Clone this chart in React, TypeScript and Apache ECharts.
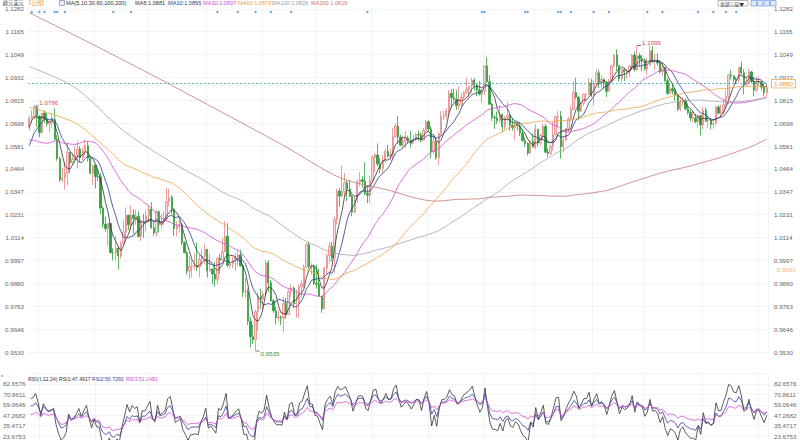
import React, { useEffect, useRef } from "react";
import * as echarts from "echarts";

// Closes before the visible window (warm-up for MA5/MA10/MA30 and RSI)
const priorCloses = [
  1.0826, 1.081, 1.078, 1.0787, 1.0854, 1.0836, 1.0796, 1.0712, 1.064, 1.0557,
  1.0497, 1.0545, 1.0509, 1.0525, 1.0619, 1.054, 1.0549, 1.0565, 1.0531, 1.0511,
  1.038, 1.041, 1.0435, 1.0553, 1.0465, 1.0585, 1.0563, 1.069, 1.0735, 1.0676,
];

// Daily candles [open, close, low, high]
const candles: number[][] = [
  // 2022-05
  [1.0676, 1.0725, 1.066, 1.0737], [1.0725, 1.0733, 1.07, 1.0765], [1.0733, 1.078, 1.072, 1.0786], [1.078, 1.0733, 1.068, 1.078],
  // 2022-06
  [1.0733, 1.065, 1.0627, 1.0739], [1.065, 1.075, 1.0641, 1.075], [1.075, 1.0719, 1.07, 1.0764], [1.0719, 1.0695, 1.0681, 1.0749],
  [1.0695, 1.0705, 1.0653, 1.0711], [1.0705, 1.0717, 1.0671, 1.0749], [1.0717, 1.0616, 1.0611, 1.0774], [1.0616, 1.0518, 1.0506, 1.0637],
  [1.0518, 1.0409, 1.0398, 1.0526], [1.0409, 1.0419, 1.0398, 1.047], [1.0419, 1.0444, 1.0359, 1.05], [1.0444, 1.0549, 1.038, 1.0601],
  [1.0549, 1.0496, 1.0445, 1.055], [1.0496, 1.0513, 1.0486, 1.0547], [1.0513, 1.0535, 1.0508, 1.0582], [1.0535, 1.0566, 1.0469, 1.0606],
  [1.0566, 1.0522, 1.0499, 1.058], [1.0522, 1.0555, 1.051, 1.0573], [1.0555, 1.0583, 1.0535, 1.0615], [1.0583, 1.0519, 1.0502, 1.0606],
  [1.0519, 1.0442, 1.0437, 1.0527], [1.0442, 1.0483, 1.0382, 1.0487],
  // 2022-07
  [1.0483, 1.0425, 1.0366, 1.0486], [1.0425, 1.0424, 1.0405, 1.0463], [1.0424, 1.0265, 1.0235, 1.0444], [1.0265, 1.0182, 1.0162, 1.0275],
  [1.0182, 1.016, 1.0144, 1.022], [1.016, 1.0186, 1.0072, 1.0188], [1.0186, 1.0037, 1.0033, 1.0186], [1.0037, 1.0036, 0.9998, 1.006],
  [1.0036, 1.0061, 0.9998, 1.0123], [1.0061, 1.002, 0.9952, 1.0071], [1.002, 1.0082, 1.0006, 1.0096], [1.0082, 1.0143, 1.008, 1.0201],
  [1.0143, 1.0228, 1.0117, 1.0269], [1.0228, 1.0179, 1.0153, 1.0232], [1.0179, 1.0229, 1.0153, 1.0278], [1.0229, 1.0212, 1.0131, 1.0258],
  [1.0212, 1.0223, 1.018, 1.0258], [1.0223, 1.012, 1.0115, 1.0248], [1.012, 1.0198, 1.0097, 1.021], [1.0198, 1.0196, 1.0114, 1.0234],
  [1.0196, 1.0225, 1.0144, 1.0254],
  // 2022-08
  [1.0225, 1.026, 1.019, 1.0275], [1.026, 1.0164, 1.016, 1.0294], [1.0164, 1.0138, 1.0123, 1.0195], [1.0138, 1.0246, 1.0122, 1.0254],
  [1.0246, 1.0181, 1.0141, 1.0252], [1.0181, 1.0196, 1.0161, 1.0234], [1.0196, 1.0211, 1.0178, 1.0248], [1.0211, 1.0298, 1.0197, 1.0368],
  [1.0298, 1.032, 1.0273, 1.0364], [1.032, 1.0259, 1.0234, 1.033], [1.0259, 1.016, 1.0123, 1.0265], [1.016, 1.017, 1.0121, 1.02],
  [1.017, 1.018, 1.014, 1.0202], [1.018, 1.0088, 1.0075, 1.019], [1.0088, 1.0037, 1.0034, 1.0096], [1.0037, 0.9943, 0.9926, 1.0045],
  [0.9943, 0.9968, 0.9901, 1.0018], [0.9968, 0.997, 0.991, 0.9999], [0.997, 0.9972, 0.995, 1.0034], [0.9972, 0.9964, 0.9945, 1.009],
  [0.9964, 1.0002, 0.991, 1.0028], [1.0002, 1.002, 0.997, 1.0055], [1.002, 1.0054, 0.9977, 1.008],
  // 2022-09
  [1.0054, 0.9945, 0.9911, 1.0055], [0.9945, 0.9953, 0.994, 1.0034], [0.9953, 0.9928, 0.9877, 0.996], [0.9928, 0.9902, 0.9864, 0.999],
  [0.9902, 1.0009, 0.9875, 1.0012], [1.0009, 1.0, 0.993, 1.003], [1.0, 1.0042, 1.0, 1.0113], [1.0042, 1.0121, 1.004, 1.0198],
  [1.0121, 0.9972, 0.9966, 1.0187], [0.9972, 0.998, 0.9955, 1.002], [0.998, 0.9997, 0.9956, 1.0017], [0.9997, 1.0015, 0.9945, 1.0036],
  [1.0015, 1.0026, 0.9966, 1.005], [1.0026, 0.997, 0.9966, 1.0051], [0.997, 0.9837, 0.9811, 0.9976], [0.9837, 0.9838, 0.9807, 0.9907],
  [0.9838, 0.9688, 0.9668, 0.9853], [0.9688, 0.9608, 0.9553, 0.9709], [0.9608, 0.9593, 0.9572, 0.9671], [0.9593, 0.9736, 0.9535, 0.9747],
  [0.9736, 0.9817, 0.9635, 0.9837], [0.9817, 0.9801, 0.975, 0.9853],
  // 2022-10
  [0.9801, 0.9826, 0.974, 0.984], [0.9826, 0.9985, 0.9812, 0.9999], [0.9985, 0.9884, 0.9836, 0.9999], [0.9884, 0.9792, 0.9786, 0.9897],
  [0.9792, 0.974, 0.973, 0.98], [0.974, 0.9705, 0.967, 0.976], [0.9705, 0.9707, 0.9685, 0.9746], [0.9707, 0.9703, 0.9668, 0.9717],
  [0.9703, 0.9777, 0.9632, 0.981], [0.9777, 0.9721, 0.97, 0.9806], [0.9721, 0.9838, 0.972, 0.9852], [0.9838, 0.9856, 0.981, 0.9875],
  [0.9856, 0.9776, 0.9755, 0.9864], [0.9776, 0.978, 0.9705, 0.9847], [0.978, 0.9862, 0.9705, 0.9873], [0.9862, 0.9877, 0.9809, 0.9897],
  [0.9877, 0.9963, 0.986, 0.9976], [0.9963, 1.0079, 0.9962, 1.0088], [1.0079, 0.9965, 0.9955, 1.0094], [0.9965, 0.9965, 0.9925, 0.9985],
  [0.9965, 0.9881, 0.987, 0.9976],
  // 2022-11
  [0.9881, 0.9876, 0.9853, 0.9976], [0.9876, 0.9816, 0.9812, 0.9955], [0.9816, 0.975, 0.973, 0.9816], [0.975, 0.9958, 0.9746, 0.9965],
  [0.9958, 1.0021, 0.9926, 1.0034], [1.0021, 1.007, 0.9981, 1.0093], [1.007, 1.0011, 0.9992, 1.0092], [1.0011, 1.0207, 0.9935, 1.0222],
  [1.0207, 1.0352, 1.018, 1.0364], [1.0352, 1.0326, 1.0271, 1.0365], [1.0326, 1.035, 1.0319, 1.0481], [1.035, 1.0394, 1.0324, 1.0444],
  [1.0394, 1.0362, 1.0301, 1.0406], [1.0362, 1.0325, 1.0322, 1.0407], [1.0325, 1.0243, 1.0223, 1.0332], [1.0243, 1.0305, 1.0238, 1.0326],
  [1.0305, 1.0397, 1.029, 1.0411], [1.0397, 1.0409, 1.0375, 1.0448], [1.0409, 1.0401, 1.0368, 1.0427], [1.0401, 1.034, 1.0332, 1.0498],
  [1.034, 1.033, 1.029, 1.038], [1.033, 1.0405, 1.029, 1.0429],
  // 2022-12
  [1.0405, 1.0523, 1.0392, 1.0534], [1.0523, 1.0536, 1.0447, 1.0545], [1.0536, 1.049, 1.0478, 1.0595], [1.049, 1.0467, 1.0443, 1.0519],
  [1.0467, 1.0507, 1.0442, 1.0535], [1.0507, 1.0555, 1.0494, 1.0566], [1.0555, 1.053, 1.0521, 1.0587], [1.053, 1.0537, 1.0506, 1.0567],
  [1.0537, 1.0631, 1.0517, 1.0673], [1.0631, 1.0683, 1.0623, 1.0695], [1.0683, 1.0627, 1.0593, 1.0736], [1.0627, 1.0585, 1.0584, 1.064],
  [1.0585, 1.0606, 1.0573, 1.0637], [1.0606, 1.0622, 1.0572, 1.0658], [1.0622, 1.061, 1.0596, 1.0635], [1.061, 1.0595, 1.0574, 1.0658],
  [1.0595, 1.0616, 1.0595, 1.0638], [1.0616, 1.064, 1.0607, 1.0648], [1.064, 1.0638, 1.0608, 1.066], [1.0638, 1.0611, 1.06, 1.065],
  [1.0611, 1.0661, 1.0609, 1.0674], [1.0661, 1.0705, 1.0653, 1.0715],
  // 2023-01
  [1.0705, 1.0669, 1.0653, 1.0713], [1.0669, 1.0553, 1.0519, 1.0683], [1.0553, 1.0605, 1.054, 1.0635], [1.0605, 1.0522, 1.0511, 1.0627],
  [1.0522, 1.0645, 1.0484, 1.0649], [1.0645, 1.0733, 1.0636, 1.076], [1.0733, 1.0736, 1.0713, 1.0762], [1.0736, 1.0761, 1.072, 1.0775],
  [1.0761, 1.0851, 1.0735, 1.0868], [1.0851, 1.0828, 1.078, 1.0873], [1.0828, 1.0822, 1.0805, 1.0874], [1.0822, 1.0787, 1.0766, 1.0869],
  [1.0787, 1.0794, 1.0769, 1.0887], [1.0794, 1.083, 1.0781, 1.0854], [1.083, 1.0856, 1.0823, 1.0862], [1.0856, 1.087, 1.0848, 1.0927],
  [1.087, 1.0885, 1.0833, 1.0888], [1.0885, 1.0918, 1.085, 1.093], [1.0918, 1.0893, 1.0865, 1.0929], [1.0893, 1.0868, 1.0836, 1.0902],
  [1.0868, 1.0846, 1.0839, 1.0914], [1.0846, 1.0863, 1.0802, 1.0869],
  // 2023-02
  [1.0863, 1.099, 1.0844, 1.0993], [1.099, 1.091, 1.0904, 1.1033], [1.091, 1.0795, 1.0793, 1.0944], [1.0795, 1.0727, 1.071, 1.0803],
  [1.0727, 1.0725, 1.0669, 1.0739], [1.0725, 1.0712, 1.0694, 1.0757], [1.0712, 1.0742, 1.0701, 1.0791], [1.0742, 1.068, 1.0655, 1.0747],
  [1.068, 1.0724, 1.0665, 1.0736], [1.0724, 1.0737, 1.0706, 1.0805], [1.0737, 1.0687, 1.066, 1.0746], [1.0687, 1.0675, 1.066, 1.0723],
  [1.0675, 1.0695, 1.0613, 1.0702], [1.0695, 1.0685, 1.0661, 1.0705], [1.0685, 1.0648, 1.0632, 1.0705], [1.0648, 1.0608, 1.0606, 1.0665],
  [1.0608, 1.0595, 1.0577, 1.0627], [1.0595, 1.0545, 1.0533, 1.06], [1.0545, 1.0606, 1.0541, 1.0612], [1.0606, 1.0576, 1.0575, 1.0645],
  // 2023-03
  [1.0576, 1.0667, 1.0565, 1.0692], [1.0667, 1.0597, 1.0578, 1.0668], [1.0597, 1.0635, 1.0586, 1.0645], [1.0635, 1.0682, 1.061, 1.0694],
  [1.0682, 1.055, 1.0548, 1.0695], [1.055, 1.0545, 1.0524, 1.0568], [1.0545, 1.0581, 1.0535, 1.0585], [1.0581, 1.0641, 1.0558, 1.0704],
  [1.0641, 1.0731, 1.0632, 1.0737], [1.0731, 1.0735, 1.0677, 1.076], [1.0735, 1.0577, 1.0516, 1.076], [1.0577, 1.0611, 1.0551, 1.0627],
  [1.0611, 1.067, 1.061, 1.0672], [1.067, 1.072, 1.0655, 1.073], [1.072, 1.077, 1.0708, 1.0787], [1.077, 1.0855, 1.0763, 1.0912],
  [1.0855, 1.083, 1.082, 1.093], [1.083, 1.076, 1.0713, 1.0839], [1.076, 1.08, 1.0755, 1.0806], [1.08, 1.0844, 1.0785, 1.085],
  [1.0844, 1.0845, 1.0808, 1.0852], [1.0845, 1.0904, 1.0843, 1.0927], [1.0904, 1.0839, 1.0832, 1.0925],
  // 2023-04
  [1.0839, 1.09, 1.0788, 1.0918], [1.09, 1.0955, 1.089, 1.0973], [1.0955, 1.0907, 1.0877, 1.097], [1.0907, 1.0921, 1.088, 1.0943],
  [1.0921, 1.0903, 1.0875, 1.0928], [1.0903, 1.0861, 1.0832, 1.0912], [1.0861, 1.0913, 1.0859, 1.0925], [1.0913, 1.099, 1.091, 1.0998],
  [1.099, 1.1046, 1.0982, 1.105], [1.1046, 1.0993, 1.0963, 1.1075], [1.0993, 1.0925, 1.091, 1.0995], [1.0925, 1.0972, 1.091, 1.0976],
  [1.0972, 1.0958, 1.0912, 1.098], [1.0958, 1.0965, 1.0924, 1.0975], [1.0965, 1.099, 1.0935, 1.0992], [1.099, 1.1046, 1.097, 1.105],
  [1.1046, 1.0972, 1.0962, 1.1064], [1.0972, 1.1042, 1.0965, 1.1095], [1.1042, 1.1027, 1.0987, 1.1057], [1.1027, 1.1019, 1.0963, 1.1047],
  // 2023-05
  [1.1019, 1.0975, 1.0967, 1.103], [1.0975, 1.0995, 1.0942, 1.103], [1.0995, 1.1068, 1.0992, 1.1092], [1.1068, 1.1014, 1.1005, 1.1092],
  [1.1014, 1.1018, 1.0968, 1.1055], [1.1018, 1.1005, 1.0993, 1.1055], [1.1005, 1.0961, 1.095, 1.1018], [1.0961, 1.0982, 1.094, 1.1008],
  [1.0982, 1.0915, 1.091, 1.0985], [1.0915, 1.0849, 1.0842, 1.0927], [1.0849, 1.0874, 1.0848, 1.0905], [1.0874, 1.0863, 1.0845, 1.0904],
  [1.0863, 1.0841, 1.0812, 1.0875], [1.0841, 1.077, 1.076, 1.0847], [1.077, 1.0806, 1.076, 1.0832], [1.0806, 1.0814, 1.0785, 1.083],
  [1.0814, 1.0771, 1.0763, 1.0825], [1.0771, 1.0752, 1.0742, 1.08], [1.0752, 1.0724, 1.0707, 1.0765], [1.0724, 1.0725, 1.0702, 1.076],
  [1.0725, 1.0706, 1.0697, 1.0746], [1.0706, 1.0737, 1.0675, 1.0745], [1.0737, 1.0689, 1.0635, 1.074],
  // 2023-06
  [1.0689, 1.0763, 1.0666, 1.0779], [1.0763, 1.0708, 1.0705, 1.0778], [1.0708, 1.0712, 1.0675, 1.0734], [1.0712, 1.0692, 1.0666, 1.0725],
  [1.0692, 1.0698, 1.067, 1.0718], [1.0698, 1.0781, 1.0686, 1.0786], [1.0781, 1.0749, 1.0744, 1.079], [1.0749, 1.0751, 1.0732, 1.0793],
  [1.0751, 1.0792, 1.0746, 1.0823], [1.0792, 1.0833, 1.0775, 1.0865], [1.0833, 1.0945, 1.0796, 1.095], [1.0945, 1.094, 1.0922, 1.097],
  [1.094, 1.0921, 1.0906, 1.0942], [1.0921, 1.0919, 1.0898, 1.0934], [1.0919, 1.0984, 1.0905, 1.0986], [1.0984, 1.0955, 1.0948, 1.1012],
  [1.0955, 1.0894, 1.0844, 1.0973], [1.0894, 1.0904, 1.0887, 1.093], [1.0904, 1.096, 1.0896, 1.0975], [1.096, 1.0911, 1.0901, 1.0965],
  [1.0911, 1.0867, 1.0835, 1.0935], [1.0867, 1.0909, 1.0857, 1.0934],
  // 2023-07
  [1.0909, 1.091, 1.089, 1.0934], [1.091, 1.0882, 1.0868, 1.0913], [1.0882, 1.0854, 1.0834, 1.09], [1.0854, 1.088, 1.0833, 1.09],
];

// Long MAs before a full window exists: [candle index, value]
const ma60Lead: [number, number][] = [[0, 1.078], [18, 1.07], [37, 1.049]];
const ma100Lead: [number, number][] = [[0, 1.0987], [18, 1.088], [37, 1.066], [57, 1.049], [72, 1.039], [90, 1.024]];
const ma200Lead: [number, number][] = [
  [0, 1.1262], [22, 1.112], [48, 1.0946], [73, 1.0773], [100, 1.0584], [122, 1.0421], [140, 1.036], [160, 1.03], [180, 1.03],
];

// Event markers along the top of the chart (candle indices)
const eventIdx = [1, 4, 6, 10, 11, 14, 33, 40, 74, 82, 89, 95, 103, 133, 178, 179, 195, 196, 208, 209, 213, 222, 228, 243, 249, 263, 269, 274, 278];

const priceTicks = ["0.9530", "0.9646", "0.9763", "0.9880", "0.9997", "1.0114", "1.0231", "1.0347", "1.0464", "1.0581", "1.0698", "1.0815", "1.0932", "1.1049", "1.1165", "1.1282"];
const rsiTicks = ["23.6753", "35.4717", "47.2682", "59.0646", "70.8611", "82.6576"];

const lastPrice = 1.088;
const markPrice = 0.9963;

const legendItems = [
  { t: "MA(5,10,30,60,100,200)", x: 66, c: "#333" },
  { t: "MA5:1.0881", x: 135, c: "#333" },
  { t: "MA10:1.0895", x: 168, c: "#2c3a8c" },
  { t: "MA30:1.0837", x: 203, c: "#d14fd1" },
  { t: "MA60:1.0878", x: 238, c: "#eda448" },
  { t: "MA100:1.0826", x: 272, c: "#9a9a9a" },
  { t: "MA200:1.0619", x: 311, c: "#c97676" },
];
const rsiLegend = [
  { t: "RSI(6,12,24)", x: 28, c: "#333" },
  { t: "RSI1:47.4917", x: 59, c: "#333" },
  { t: "RSI2:50.7260", x: 92, c: "#3b3b96" },
  { t: "RSI3:51.2481", x: 126, c: "#d14fd1" },
];

const C = {
  ma5: "#333333", ma10: "#2c3a8c", ma30: "#d14fd1", ma60: "#eda448", ma100: "#a6a2ad", ma200: "#c97676",
  up: "#fbdcdc", upB: "#e58585", down: "#339e3f",
};

function buildDates(n: number): string[] {
  const out: string[] = [];
  const d = new Date(Date.UTC(2022, 4, 26));
  while (out.length < n) {
    const wd = d.getUTCDay();
    if (wd !== 0 && wd !== 6) out.push(d.toISOString().slice(0, 10));
    d.setUTCDate(d.getUTCDate() + 1);
  }
  return out;
}

export default function App() {
  const ref = useRef<HTMLDivElement>(null);
  useEffect(() => {
    if (!ref.current) return;
    const chart = echarts.init(ref.current, undefined, { renderer: "svg" });
    const dates = buildDates(candles.length);
    const closes = candles.map((c) => c[1]);
    const all = priorCloses.concat(closes);
    const P = priorCloses.length;

    const ma = (n: number, lead?: [number, number][]) => {
      const res: (number | null)[] = [];
      for (let i = 0; i < closes.length; i++) {
        const j = i + P;
        if (j - n + 1 >= 0) {
          let s = 0;
          for (let k = j - n + 1; k <= j; k++) s += all[k];
          res.push(+(s / n).toFixed(5));
        } else res.push(null);
      }
      if (lead) lead.forEach(([i, v]) => { if (res[i] == null) res[i] = v; });
      return res;
    };
    const rsi = (n: number) => {
      let up = 0, ab = 0, init = false;
      const out: number[] = [];
      for (let j = 1; j < all.length; j++) {
        const d = all[j] - all[j - 1];
        const u = Math.max(d, 0), a = Math.abs(d);
        if (!init) { up = u; ab = a; init = true; } else { up = (u + (n - 1) * up) / n; ab = (a + (n - 1) * ab) / n; }
        if (j >= P) out.push(ab === 0 ? 50 : +((up / ab) * 100).toFixed(3));
      }
      return out;
    };

    let hiAll = 0, loAll = 0, hiLeft = 0;
    candles.forEach((c, i) => {
      if (c[3] > candles[hiAll][3]) hiAll = i;
      if (c[2] < candles[loAll][2]) loAll = i;
      if (i < 40 && c[3] > candles[hiLeft][3]) hiLeft = i;
    });
    const lastIdx = candles.length - 1;

    const pMin = 0.953, pMax = 1.1282, pInt = 0.01168;
    const rInt = 11.7965, rMin = 23.6753 - rInt, rMax = 82.6576 + rInt;
    const font = "Liberation Sans, Arial, sans-serif";
    const monthSplit = (idx: number) => idx > 0 && dates[idx].slice(5, 7) !== dates[idx - 1].slice(5, 7);

    const lineS = (name: string, data: any[], color: string, xi = 0, yi = 0, smooth: any = false) => ({
      name, type: "line", data, xAxisIndex: xi, yAxisIndex: yi, symbol: "none", smooth, connectNulls: true,
      lineStyle: { color, width: 0.8 }, silent: true, z: 3,
    });

    const priceFmt = (v: number) => {
      const i = Math.round((v - pMin) / pInt);
      return priceTicks[i] ?? "";
    };
    const rsiFmt = (v: number) => {
      const i = Math.round((v - 23.6753) / rInt);
      return i >= 0 && i < rsiTicks.length ? rsiTicks[i] : "";
    };
    const axisLbl = { fontSize: 6.2, color: "#666", fontFamily: font };

    const gText = (t: string, x: number, y: number, c: string, size = 5.6, family = font) => ({
      type: "text", x, y, silent: true,
      style: { text: t, fill: c, fontSize: size, fontFamily: family, verticalAlign: "middle", align: "left" },
    });

    const graphics: any[] = [
      gText("欧元美元", 3, 2.7, "#333", 5.2, "Noto Sans CJK SC"),
      gText("【日线】", 26, 2.7, "#e89a2c", 5.2, "Noto Sans CJK SC"),
      { type: "rect", shape: { x: 59.5, y: 0.5, width: 5, height: 5 }, style: { fill: "#e8eefa", stroke: "#5a72b0", lineWidth: 0.6 } },
      ...legendItems.map((l) => gText(l.t, l.x, 3, l.c)),
      gText("*", 1, 376.5, "#e04040", 6),
      ...rsiLegend.map((l) => gText(l.t, l.x, 379, l.c, 5.2)),
      { type: "rect", shape: { x: 718, y: 0.5, width: 30, height: 5.5 }, style: { fill: "#fff", stroke: "#888", lineWidth: 0.6 } },
      gText("全部三层▼", 720, 3.2, "#333", 4.8, "Noto Sans CJK SC"),
      ...[751, 757.5, 764, 770.5].map((x) => ({
        type: "rect", shape: { x, y: 0.5, width: 5.5, height: 5.5 }, style: { fill: "#dbe9fa", stroke: "#5c8fd6", lineWidth: 0.6 },
      })),
    ];

    const option: any = {
      animation: false,
      backgroundColor: "#fff",
      graphic: graphics,
      grid: [
        { left: 28, right: 32, top: 8.8, height: 343.2 },
        { left: 28, right: 32, top: 373.6, height: 72.8 },
      ],
      xAxis: [0, 1].map((gi) => ({
        type: "category", data: dates, gridIndex: gi, boundaryGap: true,
        axisLine: { show: false }, axisTick: { show: false }, axisLabel: { show: false },
        splitLine: { show: true, interval: (idx: number) => monthSplit(idx), lineStyle: { color: "#eef0f4", width: 0.8 } },
      })),
      yAxis: [
        { type: "value", gridIndex: 0, position: "left", min: pMin, max: pMax, interval: pInt, scale: true,
          axisLabel: { ...axisLbl, formatter: priceFmt, margin: 4 }, axisLine: { show: false }, axisTick: { show: false },
          splitLine: { show: true, lineStyle: { color: "#eef0f4", width: 0.8 } } },
        { type: "value", gridIndex: 0, position: "right", min: pMin, max: pMax, interval: pInt, scale: true,
          axisLabel: { ...axisLbl, formatter: priceFmt, margin: 6 }, axisLine: { show: false }, axisTick: { show: false },
          splitLine: { show: false } },
        { type: "value", gridIndex: 1, position: "left", min: rMin, max: rMax, interval: rInt,
          axisLabel: { ...axisLbl, formatter: rsiFmt, margin: 4 }, axisLine: { show: false }, axisTick: { show: false },
          splitLine: { show: true, lineStyle: { color: "#f0f1f4", width: 0.8 } } },
        { type: "value", gridIndex: 1, position: "right", min: rMin, max: rMax, interval: rInt,
          axisLabel: { ...axisLbl, formatter: rsiFmt, margin: 6 }, axisLine: { show: false }, axisTick: { show: false },
          splitLine: { show: false } },
      ],
      series: [
        {
          name: "K", type: "candlestick", data: candles, xAxisIndex: 0, yAxisIndex: 0, barWidth: "72%", z: 2,
          itemStyle: { color: C.up, borderColor: C.upB, color0: C.down, borderColor0: C.down, borderWidth: 0.8 },
          markLine: {
            silent: true, symbol: ["none", "none"], animation: false,
            data: [
              { yAxis: lastPrice, lineStyle: { color: "#3aa6b0", type: [2, 2], width: 0.8 },
                label: { show: true, position: "end", formatter: lastPrice.toFixed(4), color: "#e8962c", fontSize: 6.2, fontFamily: font,
                  backgroundColor: "#fff", borderColor: "#e8962c", borderWidth: 0.7, padding: [1, 2], distance: 4 } },
            ],
          },
          markPoint: {
            silent: true, symbol: "rect", symbolSize: [4, 0.8], symbolOffset: [2, 0], itemStyle: { color: "#555" },
            data: [
              { coord: [dates[hiLeft], candles[hiLeft][3]],
                label: { show: true, formatter: candles[hiLeft][3].toFixed(4), position: "right", distance: 1, offset: [0, -3], color: "#e04848", fontSize: 6.2, fontFamily: font } },
              { coord: [dates[hiAll], candles[hiAll][3]],
                label: { show: true, formatter: candles[hiAll][3].toFixed(4), position: "right", distance: 1, offset: [0, -3], color: "#e04848", fontSize: 6.2, fontFamily: font } },
              { coord: [dates[loAll], candles[loAll][2]],
                label: { show: true, formatter: candles[loAll][2].toFixed(4), position: "right", distance: 1, offset: [0, 2], color: "#3a9a48", fontSize: 6.2, fontFamily: font } },
            ],
          },
        },
        lineS("MA5", ma(5), C.ma5),
        lineS("MA10", ma(10), C.ma10),
        lineS("MA30", ma(30), C.ma30),
        lineS("MA60", ma(60, ma60Lead), C.ma60, 0, 0, 0.3),
        lineS("MA100", ma(100, ma100Lead), C.ma100, 0, 0, 0.3),
        lineS("MA200", ma(200, ma200Lead), C.ma200, 0, 0, 0.3),
        {
          name: "events", type: "scatter", xAxisIndex: 0, yAxisIndex: 0, symbol: "circle", symbolSize: 2.4, silent: true,
          itemStyle: { color: "#3f8fd0" },
          data: eventIdx.map((i) => [dates[i], pMax - pInt * 0.14]),
        },
        {
          name: "markPrice", type: "scatter", xAxisIndex: 0, yAxisIndex: 0, symbolSize: 0, silent: true, clip: false,
          data: [[dates[lastIdx], markPrice]],
          label: { show: true, position: "right", distance: 10, offset: [0, 2.5], formatter: markPrice.toFixed(4),
            color: "#eda448", fontSize: 6.2, fontFamily: font },
        },
        lineS("RSI1", rsi(6), "#333333", 1, 2),
        lineS("RSI2", rsi(12), "#3b3b96", 1, 2),
        lineS("RSI3", rsi(24), "#d14fd1", 1, 2),
      ],
    };
    chart.setOption(option);
    return () => chart.dispose();
  }, []);
  return <div ref={ref} style={{ position: "absolute", left: 0, top: 0, width: 800, height: 460 }} />;
}
